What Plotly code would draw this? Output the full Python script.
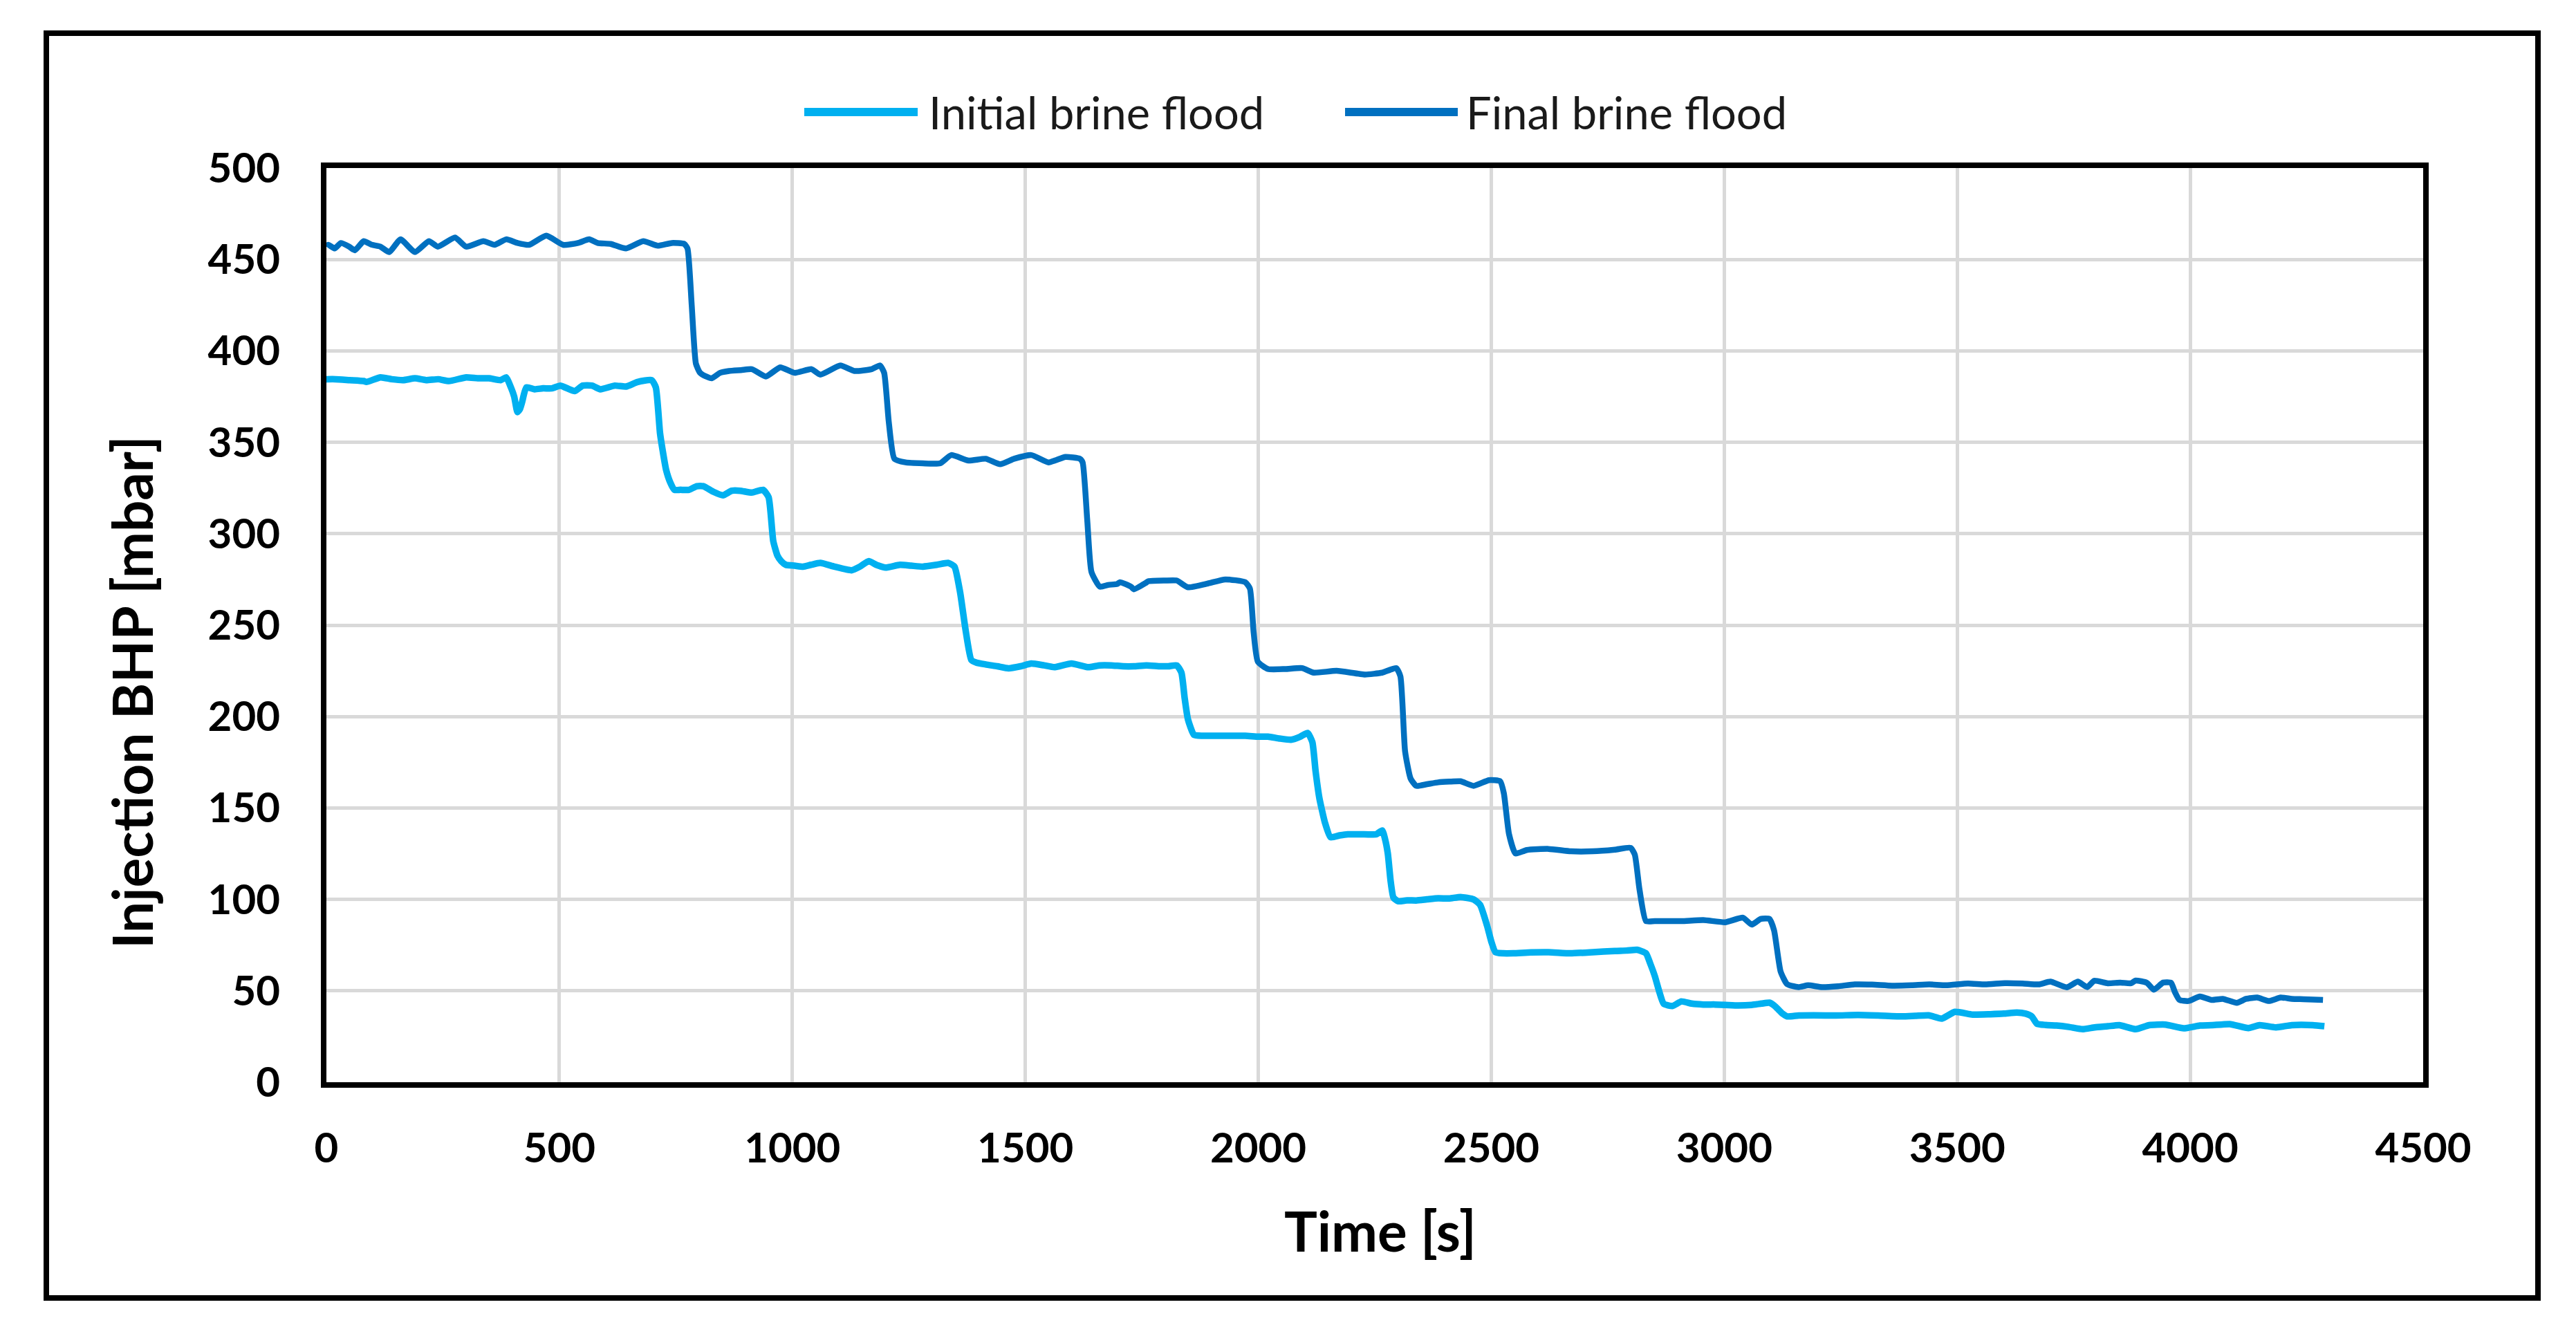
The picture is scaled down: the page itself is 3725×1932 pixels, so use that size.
import plotly.graph_objects as go

# ---------------- data ----------------
time_initial = [
    0, 20, 50, 80, 86, 116, 140, 165, 190, 214,
    240, 263, 300, 325, 349, 374, 386, 396, 403, 410,
    415, 420, 429, 447, 465, 484, 502, 533, 550, 570,
    588, 619, 643, 668, 698, 707, 716, 722, 729, 738,
    747, 760, 778, 795, 809, 830, 851, 870, 888, 913,
    937, 949, 959, 968, 976, 986, 1005, 1023, 1040, 1060,
    1090, 1127, 1145, 1164, 1180, 1200, 1231, 1255, 1280, 1310,
    1335, 1348, 1360, 1372, 1384, 1395, 1415, 1440, 1464, 1490,
    1513, 1540, 1562, 1599, 1635, 1660, 1684, 1710, 1733, 1760,
    1790, 1807, 1825, 1835, 1842, 1849, 1862, 1880, 1898, 1935,
    1972, 2000, 2021, 2045, 2070, 2090, 2106, 2116, 2123, 2131,
    2143, 2155, 2175, 2192, 2220, 2253, 2266, 2272, 2278, 2284,
    2290, 2300, 2320, 2339, 2362, 2386, 2410, 2434, 2462, 2476,
    2491, 2500, 2509, 2525, 2547, 2585, 2623, 2670, 2718, 2765,
    2790, 2813, 2832, 2841, 2851, 2860, 2870, 2889, 2908, 2930,
    2955, 2980, 3002, 3030, 3059, 3080, 3097, 3107, 3116, 3125,
    3135, 3160, 3192, 3240, 3287, 3330, 3382, 3410, 3439, 3467,
    3495, 3533, 3571, 3600, 3628, 3647, 3660, 3671, 3690, 3713,
    3740, 3769, 3795, 3823, 3848, 3883, 3912, 3947, 3986, 4021,
    4046, 4085, 4125, 4149, 4184, 4218, 4263, 4288,
]
bhp_initial = [
    384.5, 384.5, 384.0, 383.5, 383.0, 385.5, 384.5, 384.0, 385.0, 384.0,
    384.5, 383.5, 385.5, 385.0, 385.0, 384.0, 385.5, 380.0, 375.0, 366.5,
    368.0, 372.0, 380.0, 379.0, 379.5, 379.5, 381.0, 378.0, 381.0, 381.0,
    379.0, 381.0, 380.5, 383.0, 384.0, 380.0, 355.0, 345.0, 335.0, 328.0,
    324.0, 324.0, 324.0, 326.0, 326.0, 323.0, 321.0, 323.5, 323.5, 322.5,
    324.0, 320.0, 296.0, 288.0, 285.0, 283.0, 282.5, 282.0, 283.0, 284.0,
    282.0, 280.0, 282.0, 285.0, 283.0, 281.5, 283.0, 282.5, 282.0, 283.0,
    284.0, 282.0, 268.0, 247.0, 231.0, 229.5, 228.5, 227.5, 226.4, 227.5,
    229.0, 228.0, 227.0, 229.0, 227.0, 228.0, 228.0, 227.5, 227.5, 228.0,
    227.5, 227.5, 228.0, 224.0, 210.0, 198.5, 190.0, 189.5, 189.5, 189.5,
    189.5, 189.0, 189.0, 188.0, 187.3, 189.0, 191.0, 186.0, 170.0, 155.5,
    142.0, 134.0, 135.0, 135.6, 135.6, 135.6, 137.7, 133.0, 125.0, 110.0,
    101.0, 99.0, 99.5, 99.4, 100.0, 100.6, 100.5, 101.3, 100.0, 97.0,
    85.6, 77.0, 71.1, 70.5, 70.5, 71.0, 71.1, 70.5, 71.1, 71.8,
    72.0, 72.4, 70.5, 65.0, 58.0, 50.0, 42.9, 41.7, 44.2, 43.0,
    42.5, 42.5, 42.3, 42.0, 42.3, 43.0, 43.5, 42.0, 39.8, 37.5,
    36.0, 36.5, 36.6, 36.5, 36.8, 36.5, 36.0, 36.3, 36.6, 34.8,
    38.5, 37.0, 37.2, 37.5, 38.1, 37.5, 36.0, 32.0, 31.3, 31.0,
    30.2, 29.0, 30.0, 30.6, 31.2, 29.0, 31.2, 31.5, 29.5, 31.0,
    31.2, 31.8, 29.6, 31.2, 30.0, 31.2, 31.2, 30.6,
]

time_final = [
    0, 4, 18, 31, 49, 61, 80, 98, 116, 135,
    159, 190, 220, 239, 276, 300, 337, 361, 386, 410,
    435, 472, 508, 540, 564, 582, 610, 643, 680, 711,
    741, 768, 775, 784, 793, 802, 815, 827, 845, 864,
    890, 913, 943, 974, 1005, 1041, 1060, 1103, 1133, 1170,
    1188, 1197, 1207, 1219, 1243, 1280, 1317, 1341, 1378, 1415,
    1446, 1476, 1513, 1550, 1586, 1617, 1623, 1633, 1642, 1660,
    1678, 1697, 1703, 1727, 1733, 1758, 1764, 1800, 1825, 1849,
    1892, 1929, 1972, 1982, 1990, 1999, 2021, 2058, 2094, 2119,
    2168, 2229, 2266, 2296, 2305, 2315, 2327, 2339, 2362, 2386,
    2410, 2434, 2462, 2495, 2519, 2527, 2538, 2552, 2576, 2623,
    2671, 2718, 2765, 2799, 2808, 2818, 2832, 2851, 2908, 2955,
    3002, 3040, 3059, 3078, 3097, 3107, 3121, 3135, 3159, 3180,
    3210, 3244, 3280, 3317, 3360, 3402, 3440, 3476, 3523, 3560,
    3602, 3640, 3675, 3700, 3735, 3759, 3779, 3794, 3823, 3850,
    3873, 3883, 3907, 3922, 3942, 3959, 3967, 3977, 3996, 4021,
    4046, 4070, 4100, 4120, 4144, 4169, 4194, 4218, 4243, 4285,
]
bhp_final = [
    457.0, 458.0, 456.0, 459.0, 457.0, 455.0, 460.0, 458.0, 457.0, 454.0,
    461.0, 454.0, 460.0, 457.0, 462.0, 457.0, 460.0, 458.0, 461.0, 459.0,
    458.0, 463.0, 458.0, 459.0, 461.0, 459.0, 458.5, 456.0, 460.0, 457.5,
    459.0, 458.5, 456.0, 425.0, 393.0, 388.0, 386.0, 385.0, 388.0, 389.0,
    389.5, 390.0, 386.0, 391.0, 388.0, 390.0, 387.0, 392.0, 389.0, 390.0,
    392.0, 388.0, 361.0, 341.0, 339.0, 338.5, 338.5, 343.0, 340.0, 341.0,
    338.0, 341.0, 343.0, 339.0, 342.0, 341.0, 339.0, 307.0, 279.0, 271.0,
    272.0, 272.5, 273.5, 271.0, 269.6, 273.0, 274.0, 274.4, 274.4, 270.7,
    272.8, 275.0, 273.5, 270.0, 246.0, 230.0, 226.0, 226.0, 226.5, 224.0,
    225.0, 223.0, 224.0, 226.5, 222.0, 181.0, 166.0, 162.1, 163.0, 164.0,
    164.4, 164.6, 162.1, 165.2, 164.6, 158.0, 135.8, 125.1, 127.0, 127.6,
    126.3, 126.3, 127.2, 128.2, 124.5, 105.6, 88.1, 88.1, 88.1, 88.7,
    87.5, 90.0, 86.2, 89.3, 89.3, 83.0, 60.5, 53.6, 52.0, 53.0,
    52.0, 52.5, 53.5, 53.4, 52.8, 53.0, 53.5, 53.0, 54.0, 53.5,
    54.2, 54.0, 53.5, 55.0, 51.9, 55.0, 52.0, 55.5, 54.1, 54.5,
    54.1, 55.6, 54.4, 50.6, 54.5, 54.4, 49.4, 45.0, 44.4, 46.9,
    45.0, 45.6, 43.4, 45.6, 46.3, 44.4, 46.3, 45.6, 45.4, 45.0,
]

series_names = ["Initial brine flood", "Final brine flood"]
series_colors = ["#00B0F0", "#0070C0"]

x_ticks = [0, 500, 1000, 1500, 2000, 2500, 3000, 3500, 4000, 4500]
y_ticks = [0, 50, 100, 150, 200, 250, 300, 350, 400, 450, 500]

x_title = "Time [s]"
y_title = "Injection BHP [mbar]"

# ---------------- layout geometry ----------------
W, H = 3725, 1932
OFF = 8                                  # page body margin of the browser
FW, FH = W - 2 * OFF, H - 2 * OFF        # figure size
PL, PR, PT, PB = 472 - OFF, 3504 - OFF, 243 - OFF, 1565 - OFF  # plot area


def xp(px):
    """reference pixel x -> paper coordinate"""
    return (px - OFF - PL) / (PR - PL)


def yp(py):
    """reference pixel y -> paper coordinate"""
    return (PB - (py - OFF)) / (PB - PT)


FONT = "Lato, 'Open Sans', 'Liberation Sans', sans-serif"

fig = go.Figure()
fig.add_trace(go.Scatter(
    x=time_initial, y=bhp_initial, mode="lines", name=series_names[0],
    line=dict(color=series_colors[0], width=9.5, shape="spline", smoothing=0.5),
    showlegend=False,
))
fig.add_trace(go.Scatter(
    x=time_final, y=bhp_final, mode="lines", name=series_names[1],
    line=dict(color=series_colors[1], width=8.5, shape="spline", smoothing=0.5),
    showlegend=False,
))

fig.update_layout(
    width=FW, height=FH,
    margin=dict(l=PL, r=FW - PR, t=PT, b=FH - PB, pad=0),
    paper_bgcolor="white", plot_bgcolor="white",
    font=dict(family=FONT, color="black"),
)

fig.update_xaxes(
    range=[0, 4500], tickvals=x_ticks, ticktext=[str(v) for v in x_ticks],
    showgrid=True, gridcolor="#D9D9D9", gridwidth=4.5,
    showline=True, linecolor="black", linewidth=8, mirror=True,
    ticks="", ticklabelstandoff=36, zeroline=False,
    tickfont=dict(family=FONT, size=60, color="black", weight="bold"),
)
fig.update_yaxes(
    range=[0, 500], tickvals=y_ticks, ticktext=[str(v) for v in y_ticks],
    showgrid=True, gridcolor="#D9D9D9", gridwidth=4.5,
    showline=True, linecolor="black", linewidth=8, mirror=True,
    ticks="", ticklabelstandoff=47, zeroline=False,
    tickfont=dict(family=FONT, size=60, color="black", weight="bold"),
)

# axis titles (placed where the reference has them)
fig.add_annotation(xref="paper", yref="paper", x=xp(1996), y=yp(1779),
                   text="<b>%s</b>" % x_title, showarrow=False,
                   xanchor="center", yanchor="middle",
                   font=dict(family=FONT, size=80, color="black"))
fig.add_annotation(xref="paper", yref="paper", x=xp(190), y=yp(1001),
                   text="<b>%s</b>" % y_title, showarrow=False, textangle=-90,
                   xanchor="center", yanchor="middle",
                   font=dict(family=FONT, size=80, color="black"))

# outer frame of the whole chart
fig.add_shape(type="rect", xref="paper", yref="paper",
              x0=xp(67), x1=xp(3670), y0=yp(1877), y1=yp(48),
              line=dict(color="black", width=8), fillcolor="rgba(0,0,0,0)",
              layer="above")

# legend (drawn by hand to reproduce the long line samples)
legend_y = yp(162)
legend_items = [
    (1163, 1327, 1341),
    (1945, 2108, 2118),
]
for (lx0, lx1, tx), name, color in zip(legend_items, series_names, series_colors):
    fig.add_shape(type="line", xref="paper", yref="paper",
                  x0=xp(lx0), x1=xp(lx1), y0=legend_y, y1=legend_y,
                  line=dict(color=color, width=12))
    fig.add_annotation(xref="paper", yref="paper", x=xp(tx), y=legend_y,
                       text=name, showarrow=False, xanchor="left",
                       yanchor="middle",
                       font=dict(family=FONT, size=65, color="#1a1a1a"))

fig.write_html("out.html")
